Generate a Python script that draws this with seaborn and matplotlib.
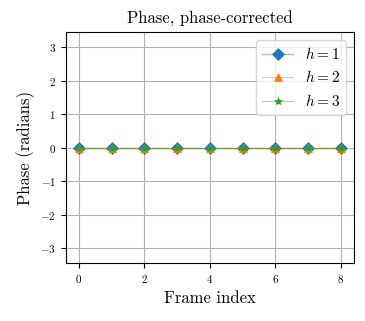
import numpy as np
import pandas as pd
import matplotlib
matplotlib.use("Agg")
import matplotlib.pyplot as plt
import matplotlib.colors as mcolors
import seaborn as sns

# data
frames = [0, 1, 2, 3, 4, 5, 6, 7, 8]
phase_h1 = [0.0, 0.0, 0.0, 0.0, 0.0, 0.0, 0.0, 0.0, 0.0]
phase_h2 = [0.0, 0.0, 0.0, 0.0, 0.0, 0.0, 0.0, 0.0, 0.0]
phase_h3 = [0.0, 0.0, 0.0, 0.0, 0.0, 0.0, 0.0, 0.0, 0.0]
labels = [r"$h=1$", r"$h=2$", r"$h=3$"]
colors = ['#1f77b4', '#ff7f0e', '#2ca02c']

plt.rcParams['font.family'] = 'serif'
plt.rcParams['font.serif'] = ['cmr10']
plt.rcParams['mathtext.fontset'] = 'cm'
plt.rcParams['axes.formatter.use_mathtext'] = True
plt.rcParams['axes.unicode_minus'] = True

fig, ax = plt.subplots(figsize=(3.65, 3.21), dpi=100)

sns.lineplot(x=frames, y=phase_h1, marker='D', markersize=6.5, color=colors[0],
             linewidth=1.0, label=labels[0], ax=ax)
sns.lineplot(x=frames, y=phase_h2, marker='^', markersize=6, color=colors[1],
             linewidth=0.8, label=labels[1], ax=ax)
sns.lineplot(x=frames, y=phase_h3, marker='*', markersize=6, color=colors[2],
             linewidth=0.8, label=labels[2], ax=ax)
for ln, c in zip(ax.get_lines(), colors):
    ln.set_color(mcolors.to_rgba(c, 0.45))
    ln.set_markerfacecolor(c)
    ln.set_markeredgecolor(c)
    ln.set_markeredgewidth(0.5)

ax.set_ylim(-1.1 * np.pi, 1.1 * np.pi)
ax.set_yticks([-3, -2, -1, 0, 1, 2, 3])
ax.set_xticks([0, 2, 4, 6, 8])
ax.tick_params(labelsize=8)
ax.grid(True, color='#b0b0b0', linewidth=0.8)
ax.set_axisbelow(True)
ax.set_title("Phase, phase-corrected", fontsize=12)
ax.set_xlabel("Frame index", fontsize=12)
ax.set_ylabel("Phase (radians)", fontsize=12)
leg = ax.legend(loc='upper right', fontsize=11)
for lh, c in zip(leg.get_lines(), colors):
    lh.set_color(mcolors.to_rgba(c, 0.45))
    lh.set_markerfacecolor(c)
    lh.set_markeredgecolor(c)

fig.subplots_adjust(left=0.18, right=0.97, top=0.9, bottom=0.18)
fig.savefig("out.png", dpi=100)
